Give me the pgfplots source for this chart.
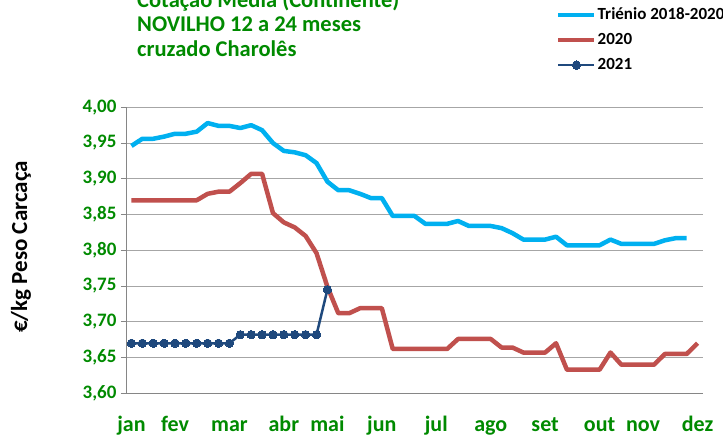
\documentclass[border=0pt]{standalone}
\usepackage{fontspec}
\setmainfont{Carlito}
\usepackage{pgfplots}
\pgfplotsset{compat=1.18}
\definecolor{trienio}{HTML}{00B0F0}
\definecolor{ano2020}{HTML}{C0504D}
\definecolor{ano2021}{HTML}{1F497D}
\definecolor{titgreen}{HTML}{008A00}
\definecolor{gridgray}{HTML}{A6A6A6}
\definecolor{axgray}{HTML}{868686}

\pgfplotstableread{
i v
0 3.946
1 3.956
2 3.956
3 3.959
4 3.963
5 3.963
6 3.966
7 3.978
8 3.974
9 3.974
10 3.971
11 3.975
12 3.968
13 3.950
14 3.939
15 3.937
16 3.933
17 3.922
18 3.896
19 3.884
20 3.884
21 3.879
22 3.873
23 3.873
24 3.848
25 3.848
26 3.848
27 3.837
28 3.837
29 3.837
30 3.841
31 3.834
32 3.834
33 3.834
34 3.831
35 3.824
36 3.815
37 3.815
38 3.815
39 3.819
40 3.807
41 3.807
42 3.807
43 3.807
44 3.815
45 3.809
46 3.809
47 3.809
48 3.809
49 3.814
50 3.817
51 3.817
}\trienio

\pgfplotstableread{
i v
0 3.870
1 3.870
2 3.870
3 3.870
4 3.870
5 3.870
6 3.870
7 3.879
8 3.882
9 3.882
10 3.894
11 3.907
12 3.907
13 3.852
14 3.839
15 3.832
16 3.820
17 3.796
18 3.749
19 3.712
20 3.712
21 3.719
22 3.719
23 3.719
24 3.662
25 3.662
26 3.662
27 3.662
28 3.662
29 3.662
30 3.676
31 3.676
32 3.676
33 3.676
34 3.664
35 3.664
36 3.657
37 3.657
38 3.657
39 3.670
40 3.633
41 3.633
42 3.633
43 3.633
44 3.657
45 3.640
46 3.640
47 3.640
48 3.640
49 3.655
50 3.655
51 3.655
52 3.670
}\anoA

\pgfplotstableread{
i v
0 3.670
1 3.670
2 3.670
3 3.670
4 3.670
5 3.670
6 3.670
7 3.670
8 3.670
9 3.670
10 3.682
11 3.682
12 3.682
13 3.682
14 3.682
15 3.682
16 3.682
17 3.682
18 3.745
}\anoB

\begin{document}
\begin{tikzpicture}
\useasboundingbox (0,0) rectangle (723bp,437bp);
% title
\node[anchor=base west, inner sep=0pt, text=titgreen, font=\fontsize{22.5bp}{26bp}\selectfont\bfseries] at (137bp,429bp) {Cotação Média (Continente)};
\node[anchor=base west, inner sep=0pt, text=titgreen, font=\fontsize{22.5bp}{26bp}\selectfont\bfseries] at (137bp,405bp) {NOVILHO 12 a 24 meses};
\node[anchor=base west, inner sep=0pt, text=titgreen, font=\fontsize{22.5bp}{26bp}\selectfont\bfseries] at (137bp,380bp) {cruzado Charolês};
% y label
\node[rotate=90, inner sep=0pt, font=\fontsize{23bp}{26bp}\selectfont\bfseries] at (21bp,190bp) {€/kg Peso Carcaça};

\begin{axis}[
    at={(126bp,43.7bp)}, anchor=south west,
    scale only axis,
    width=577bp, height=286bp,
    xmin=-0.5, xmax=52.5,
    ymin=3.6, ymax=4.0,
    ytick={3.60,3.65,...,4.01},
    axis x line*=bottom, axis y line*=left,
    axis line style={axgray, line width=0.9bp},
    tick align=outside,
    major tick length=5bp, minor tick length=5bp,
    tick style={axgray, line width=0.8bp},
    xtick={0,4,9,14,18,23,28,33,38,43,47,52},
    xticklabels={jan,fev,mar,abr,mai,jun,jul,ago,set,out,nov,dez},
    minor xtick={-0.5,0.5,...,52.6},
    xtick style={draw=none},
    minor x tick style={axgray, line width=0.8bp},
    ymajorgrids,
    grid style={gridgray, line width=1bp},
    xticklabel style={text=titgreen, font=\fontsize{22bp}{24bp}\selectfont\bfseries,
        anchor=base, text height=15bp, text depth=5bp, yshift=-33bp},
    yticklabel style={text=titgreen, font=\fontsize{19bp}{22bp}\selectfont\bfseries, xshift=-1bp},
    /pgf/number format/.cd, use comma, fixed, fixed zerofill, precision=2, assume math mode=true,
    /pgfplots/.cd,
    legend style={at={(0.740,1.365)}, anchor=north west, draw=none, fill=none,
        font=\fontsize{17bp}{20bp}\selectfont\bfseries,
        nodes={inner sep=1bp, text height=13bp, text depth=5bp},
        row sep=5bp,
        /tikz/every even column/.style={column sep=1bp}},
    legend cell align=left,
    legend image code/.code={\draw[mark repeat=2,mark phase=2,#1] plot coordinates {(0bp,0bp) (18bp,0bp) (36bp,0bp)};},
]
\addplot[trienio, line width=4.5bp, line join=round] table[x=i,y=v] {\trienio};
\addlegendentry{Triénio 2018-2020}
\addplot[ano2020, line width=4.5bp, line join=round] table[x=i,y=v] {\anoA};
\addlegendentry{2020}
\addplot[ano2021, line width=2.5bp, mark=*, mark size=4.2bp, mark options={solid, fill=ano2021, draw=ano2021, line width=0pt}] table[x=i,y=v] {\anoB};
\addlegendentry{2021}
\end{axis}
\end{tikzpicture}
\end{document}
